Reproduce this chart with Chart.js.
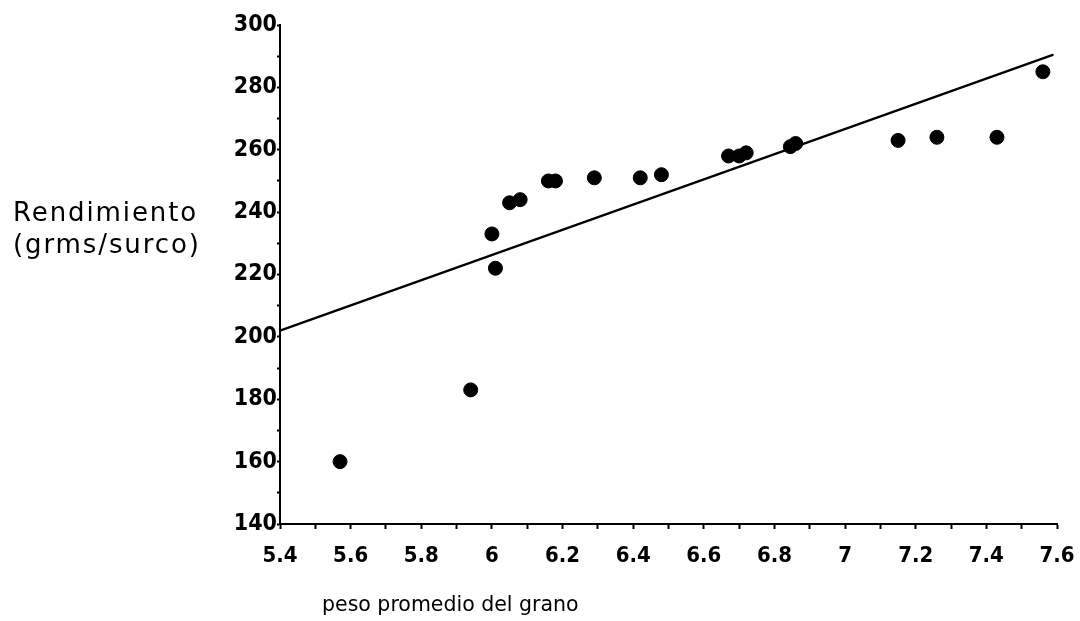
<!DOCTYPE html>
<html>
<head>
<meta charset="utf-8">
<script src="https://cdn.jsdelivr.net/npm/chart.js@4/dist/chart.umd.min.js"></script>
<style>
  html, body { margin: 0; padding: 0; background: #fff; }
  #wrap { position: relative; width: 1080px; height: 621px; }
  #c { position: absolute; left: 0; top: 0; }
  .ttl { position: absolute; font-family: "DejaVu Sans", sans-serif; color: #000; white-space: nowrap; }
  #ytitle { left: 13px; top: 196px; font-size: 26px; line-height: 32px; letter-spacing: 1.9px; }
  #xtitle { left: 322px; top: 590px; font-size: 20.5px; line-height: 28px; }
</style>
</head>
<body>
<div id="wrap">
  <canvas id="c" width="1080" height="621"></canvas>
  <div id="ytitle" class="ttl">Rendimiento<br>(grms/surco)</div>
  <div id="xtitle" class="ttl">peso promedio del grano</div>
</div>
<script>
// Data
const grainWeight = [5.57, 5.94, 6.00, 6.01, 6.05, 6.08, 6.16, 6.18, 6.29, 6.42, 6.48, 6.67, 6.70, 6.72, 6.845, 6.86, 7.15, 7.26, 7.43, 7.56];
const yieldValues = [160, 183, 233, 222, 243, 244, 250, 250, 251, 251, 252, 258, 258, 259, 261, 262, 263, 264, 264, 285];
const fitX = [5.4, 7.59];
const fitY = [202, 290.5];
const xTickLabels = ['5.4','5.6','5.8','6','6.2','6.4','6.6','6.8','7','7.2','7.4','7.6'];
const yTickLabels = ['140','160','180','200','220','240','260','280','300'];

const points = grainWeight.map((x, i) => ({ x: x, y: yieldValues[i] }));
const fitLine = fitX.map((x, i) => ({ x: x, y: fitY[i] }));

const tickFont = "'DejaVu Sans Condensed', 'DejaVu Sans', sans-serif";

new Chart(document.getElementById('c'), {
  type: 'scatter',
  data: {
    datasets: [
      {
        type: 'line',
        data: fitLine,
        borderColor: '#000',
        borderWidth: 2.2,
        pointRadius: 0,
        fill: false,
        tension: 0,
        clip: false
      },
      {
        data: points,
        backgroundColor: '#000',
        borderColor: '#000',
        pointRadius: 7,
        pointHoverRadius: 7,
        clip: false
      }
    ]
  },
  options: {
    responsive: false,
    animation: false,
    events: [],
    layout: { padding: { top: 25, right: 23, left: 0, bottom: 0 } },
    plugins: { legend: { display: false }, tooltip: { enabled: false } },
    scales: {
      x: {
        type: 'linear',
        min: 5.4,
        max: 7.6,
        afterFit: s => { s.height = 97; s.paddingLeft = 0; s.paddingRight = 0; },
        border: { display: true, color: '#000', width: 2 },
        grid: { drawOnChartArea: false, drawTicks: true, tickColor: '#000', tickWidth: 2, tickLength: 5 },
        ticks: {
          stepSize: 0.1,
          autoSkip: false,
          maxRotation: 0,
          padding: 14,
          color: '#000',
          font: { family: tickFont, size: 22, weight: 'bold' },
          callback: v => {
            const k = Math.round(v * 10);
            if (k % 2 !== 0) return '';
            const lbl = String(+(k / 10).toFixed(1));
            return xTickLabels.includes(lbl) ? lbl : '';
          }
        }
      },
      y: {
        type: 'linear',
        min: 140,
        max: 300,
        afterFit: s => { s.width = 280; s.paddingTop = 0; s.paddingBottom = 0; },
        border: { display: true, color: '#000', width: 2 },
        grid: { drawOnChartArea: false, drawTicks: true, tickColor: '#000', tickWidth: 2, tickLength: 3 },
        ticks: {
          stepSize: 10,
          autoSkip: false,
          padding: 0,
          color: '#000',
          font: { family: tickFont, size: 23, weight: 'bold' },
          callback: v => {
            const lbl = String(Math.round(v));
            return yTickLabels.includes(lbl) ? lbl : '';
          }
        }
      }
    }
  }
});
</script>
</body>
</html>
